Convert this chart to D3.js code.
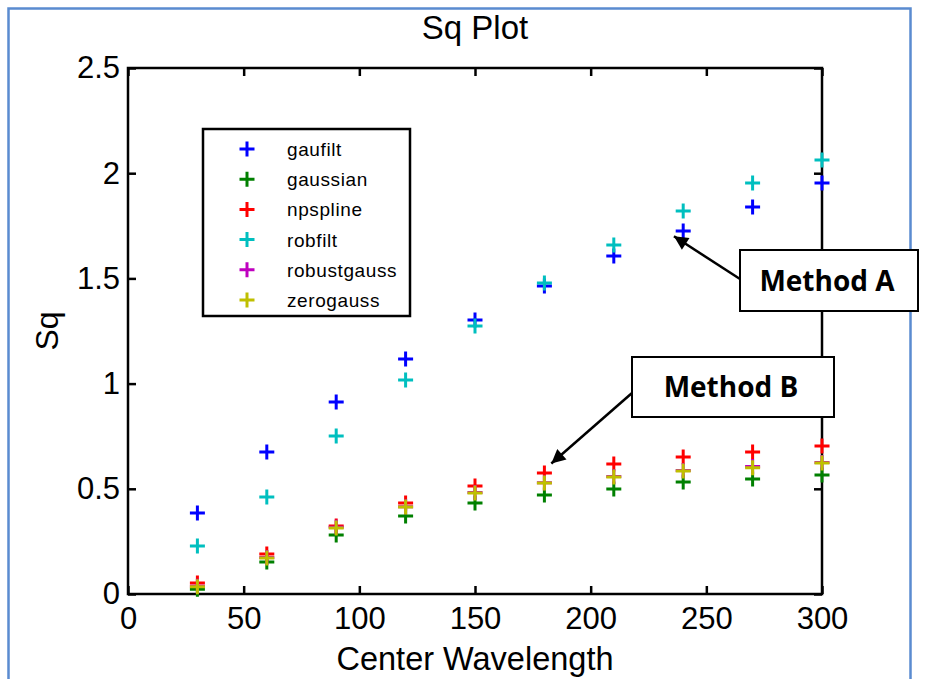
<!DOCTYPE html>
<html>
<head>
<meta charset="utf-8">
<script src="https://cdn.jsdelivr.net/npm/d3@7"></script>
<style>
body { margin: 0; background: #fff; }
text { font-family: "Liberation Sans", Arial, sans-serif; fill: #000; }
</style>
</head>
<body>
<div id="chart"></div>
<script>
// Sq vs center wavelength, one series per filter method
var wavelengths = [30, 60, 90, 120, 150, 180, 210, 240, 270, 300];
var gaufilt     = [0.385, 0.675, 0.913, 1.117, 1.302, 1.464, 1.606, 1.725, 1.839, 1.953];
var gaussian    = [0.022, 0.152, 0.280, 0.371, 0.432, 0.471, 0.499, 0.532, 0.547, 0.566];
var npspline    = [0.052, 0.190, 0.323, 0.432, 0.513, 0.575, 0.618, 0.651, 0.675, 0.703];
var robfilt     = [0.228, 0.461, 0.751, 1.017, 1.274, 1.478, 1.659, 1.820, 1.953, 2.063];
var robustgauss = [0.037, 0.173, 0.317, 0.415, 0.482, 0.529, 0.558, 0.587, 0.606, 0.625];
var zerogauss   = [0.035, 0.171, 0.314, 0.413, 0.480, 0.527, 0.556, 0.585, 0.600, 0.623];

var seriesNames  = ["gaufilt", "gaussian", "npspline", "robfilt", "robustgauss", "zerogauss"];
var seriesValues = [gaufilt, gaussian, npspline, robfilt, robustgauss, zerogauss];
var seriesColors = ["#0000ff", "#008000", "#ff0000", "#00bfbf", "#bf00bf", "#bfbf00"];

var xTicks = [0, 50, 100, 150, 200, 250, 300];
var yTicks = [0, 0.5, 1, 1.5, 2, 2.5];

// callouts: label and the data point the arrow points at
var calloutLabels = ["Method A", "Method B"];
var calloutTargets = [[236, 1.70], [183, 0.62]];

var width = 930, height = 679;
var plot = {left: 128, right: 822, top: 68, bottom: 594};

var svg = d3.select("#chart").append("svg")
	.attr("width", width)
	.attr("height", height);

// outer frame (document border)
svg.append("rect")
	.attr("x", 8.5).attr("y", 8.5)
	.attr("width", 902).attr("height", 700)
	.attr("fill", "none")
	.attr("stroke", "#5a8bd0")
	.attr("stroke-width", 2.5);

var x = d3.scaleLinear().domain([0, 300]).range([plot.left, plot.right]);
var y = d3.scaleLinear().domain([0, 2.5]).range([plot.bottom, plot.top]);

function styleAxis(g){
	g.select(".domain").remove();
	g.selectAll(".tick line").attr("stroke", "#000").attr("stroke-width", 2.5);
	g.selectAll(".tick text")
		.style("font-family", "'Liberation Sans', Arial, sans-serif")
		.style("font-size", "31px")
		.attr("fill", "#000");
}

svg.append("g")
	.attr("transform", "translate(0," + plot.bottom + ")")
	.call(d3.axisBottom(x).tickValues(xTicks).tickSize(-8).tickSizeOuter(0).tickPadding(13))
	.call(styleAxis);

svg.append("g")
	.attr("transform", "translate(0," + plot.top + ")")
	.call(d3.axisTop(x).tickValues(xTicks).tickSize(-8).tickSizeOuter(0).tickFormat(""))
	.call(styleAxis);

svg.append("g")
	.attr("transform", "translate(" + plot.left + ",0)")
	.call(d3.axisLeft(y).tickValues(yTicks).tickSize(-8).tickSizeOuter(0).tickPadding(8)
		.tickFormat(d3.format("~g")))
	.call(styleAxis);

svg.append("g")
	.attr("transform", "translate(" + plot.right + ",0)")
	.call(d3.axisRight(y).tickValues(yTicks).tickSize(-8).tickSizeOuter(0).tickFormat(""))
	.call(styleAxis);

svg.append("rect")
	.attr("x", plot.left).attr("y", plot.top)
	.attr("width", plot.right - plot.left)
	.attr("height", plot.bottom - plot.top)
	.attr("fill", "none")
	.attr("stroke", "#000")
	.attr("stroke-width", 2.5);

// titles
svg.append("text")
	.attr("x", (plot.left + plot.right) / 2)
	.attr("y", 39)
	.attr("text-anchor", "middle")
	.style("font-size", "33px")
	.text("Sq Plot");

svg.append("text")
	.attr("x", (plot.left + plot.right) / 2)
	.attr("y", 670)
	.attr("text-anchor", "middle")
	.style("font-size", "32.5px")
	.text("Center Wavelength");

svg.append("text")
	.attr("transform", "translate(58," + (plot.top + plot.bottom) / 2 + ") rotate(-90)")
	.attr("text-anchor", "middle")
	.style("font-size", "32px")
	.text("Sq");

// plus markers
var plusPath = "M-7.5,0H7.5M0,-7.5V7.5";

var series = svg.selectAll(".series")
	.data(seriesNames)
	.enter().append("g")
	.attr("class", "series")
	.attr("stroke", function(d, i){ return seriesColors[i]; })
	.attr("stroke-width", 3)
	.attr("fill", "none");

series.selectAll("path")
	.data(function(d, i){ return seriesValues[i]; })
	.enter().append("path")
	.attr("d", plusPath)
	.attr("transform", function(v, j){
		return "translate(" + x(wavelengths[j]) + "," + y(v) + ")";
	});

// legend
var legend = svg.append("g").attr("transform", "translate(203,129)");
legend.append("rect")
	.attr("width", 207).attr("height", 187)
	.attr("fill", "#fff")
	.attr("stroke", "#000")
	.attr("stroke-width", 2.5);

var legendRow = legend.selectAll(".legendRow")
	.data(seriesNames)
	.enter().append("g")
	.attr("class", "legendRow")
	.attr("transform", function(d, i){ return "translate(0," + (20 + i * 30.2) + ")"; });

legendRow.append("path")
	.attr("d", plusPath)
	.attr("transform", "translate(44,0)")
	.attr("stroke", function(d, i){ return seriesColors[i]; })
	.attr("stroke-width", 3);

legendRow.append("text")
	.attr("x", 84)
	.attr("y", 7)
	.style("font-size", "19px")
	.style("letter-spacing", "0.6px")
	.text(function(d){ return d; });

// callouts
svg.append("defs").append("marker")
	.attr("id", "arrowHead")
	.attr("viewBox", "0 0 10 10")
	.attr("refX", 10).attr("refY", 5)
	.attr("markerUnits", "userSpaceOnUse")
	.attr("markerWidth", 18).attr("markerHeight", 14)
	.attr("orient", "auto")
	.append("path")
	.attr("d", "M0,0L10,5L0,10Z")
	.attr("fill", "#000");

var calloutBoxes = [
	{x: 740, y: 250, w: 178, h: 61, fromX: 740, fromY: 279},
	{x: 632, y: 357, w: 202, h: 60, fromX: 632, fromY: 393}
];

calloutLabels.forEach(function(label, i){
	var b = calloutBoxes[i];
	svg.append("line")
		.attr("x1", b.fromX).attr("y1", b.fromY)
		.attr("x2", x(calloutTargets[i][0])).attr("y2", y(calloutTargets[i][1]))
		.attr("stroke", "#000")
		.attr("stroke-width", 2.5)
		.attr("marker-end", "url(#arrowHead)");
	svg.append("rect")
		.attr("x", b.x).attr("y", b.y)
		.attr("width", b.w).attr("height", b.h)
		.attr("fill", "#fff")
		.attr("stroke", "#000")
		.attr("stroke-width", 2);
	svg.append("text")
		.attr("x", b.x + b.w / 2 - 2)
		.attr("y", b.y + b.h / 2 + 10)
		.attr("text-anchor", "middle")
		.style("font-family", "'Open Sans', 'Liberation Sans', sans-serif")
		.style("font-weight", "bold")
		.style("font-size", "28px")
		.text(label);
});
</script>
</body>
</html>
